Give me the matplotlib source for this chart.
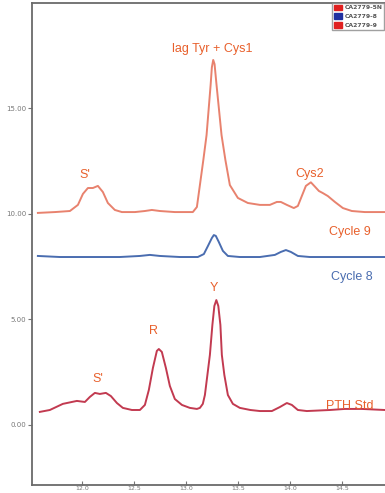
import numpy as np
import matplotlib
matplotlib.use('Agg')
import matplotlib.pyplot as plt
from matplotlib.patches import Patch
from matplotlib.ticker import FormatStrFormatter

# retention time (min) / absorbance
top_x = [11.577, 11.740, 11.885, 11.962, 12.010, 12.058, 12.106, 12.154, 12.202,
         12.250, 12.317, 12.385, 12.510, 12.606, 12.673, 12.750, 12.894, 13.067,
         13.106, 13.135, 13.168, 13.199, 13.238, 13.250, 13.263, 13.276, 13.295,
         13.343, 13.380, 13.423, 13.500, 13.596, 13.712, 13.808, 13.875, 13.913,
         13.971, 14.038, 14.077, 14.115, 14.154, 14.202, 14.240, 14.279, 14.317,
         14.365, 14.433, 14.510, 14.596, 14.721, 14.913]
top_y = [10.05, 10.09, 10.14, 10.43, 10.95, 11.23, 11.23, 11.33, 11.04,
         10.52, 10.19, 10.09, 10.09, 10.14, 10.19, 10.14, 10.09, 10.09,
         10.33, 11.37, 12.56, 13.74, 16.11, 16.95, 17.30, 17.10, 16.11,
         13.74, 12.56, 11.37, 10.76, 10.52, 10.43, 10.43, 10.57, 10.57,
         10.43, 10.28, 10.38, 10.85, 11.33, 11.50, 11.30, 11.09, 10.99,
         10.85, 10.57, 10.28, 10.14, 10.09, 10.09]

mid_x = [11.577, 11.788, 12.077, 12.365, 12.558, 12.654, 12.750, 12.942, 13.115,
         13.173, 13.212, 13.250, 13.269, 13.288, 13.317, 13.356, 13.404, 13.519,
         13.712, 13.856, 13.913, 13.962, 14.010, 14.077, 14.192, 14.481, 14.913]
mid_y = [8.01, 7.96, 7.96, 7.96, 8.01, 8.06, 8.01, 7.96, 7.96,
         8.10, 8.48, 8.86, 9.00, 8.96, 8.67, 8.25, 8.01, 7.96,
         7.96, 8.06, 8.20, 8.29, 8.20, 8.01, 7.96, 7.96, 7.96]

std_x = [11.596, 11.692, 11.817, 11.952, 12.029, 12.077, 12.125, 12.173, 12.231,
         12.279, 12.337, 12.394, 12.481, 12.558, 12.606, 12.644, 12.683, 12.721,
         12.740, 12.769, 12.808, 12.846, 12.894, 12.962, 13.038, 13.106, 13.135,
         13.163, 13.183, 13.207, 13.231, 13.255, 13.274, 13.293, 13.312, 13.332,
         13.346, 13.370, 13.404, 13.452, 13.519, 13.620, 13.712, 13.827, 13.904,
         13.971, 14.019, 14.077, 14.163, 14.385, 14.529, 14.692, 14.913]
std_y = [0.62, 0.71, 1.00, 1.14, 1.09, 1.33, 1.52, 1.47, 1.52,
         1.37, 1.04, 0.81, 0.71, 0.71, 0.95, 1.66, 2.70, 3.51,
         3.60, 3.46, 2.70, 1.85, 1.23, 0.95, 0.81, 0.76, 0.81,
         1.00, 1.42, 2.37, 3.32, 4.74, 5.64, 5.92, 5.64, 4.74,
         3.32, 2.37, 1.42, 1.00, 0.81, 0.71, 0.66, 0.66, 0.85,
         1.04, 0.95, 0.71, 0.66, 0.71, 0.76, 0.76, 0.71]

x_ticks = [12.0, 12.5, 13.0, 13.5, 14.0, 14.5]
y_ticks = [0, 5, 10, 15]
legend_names = ['CA2779-5N', 'CA2779-8', 'CA2779-9']

c_top = '#e8826e'
c_mid = '#4a6db0'
c_std = '#c23a50'
c_lab = '#e8602c'

fig = plt.figure(figsize=(3.85, 4.93), dpi=100)
ax = fig.add_axes([0.083, 0.016, 0.94, 0.978])

ax.plot(top_x, top_y, color=c_top, lw=1.4)
ax.plot(mid_x, mid_y, color=c_mid, lw=1.4)
ax.plot(std_x, std_y, color=c_std, lw=1.4)

ax.set_xlim(11.52, 15.0)
ax.set_ylim(-2.85, 20.0)
ax.set_xticks(x_ticks)
ax.set_yticks(y_ticks)
ax.yaxis.set_major_formatter(FormatStrFormatter('%.2f'))
ax.xaxis.set_major_formatter(FormatStrFormatter('%.1f'))
ax.tick_params(axis='x', direction='in', length=3, pad=0.5, labelsize=4.5,
               colors='#777777')
ax.tick_params(axis='y', direction='out', length=3, pad=1, labelsize=5,
               colors='#777777')
for s in ax.spines.values():
    s.set_color('#6a6a6a')
    s.set_linewidth(1.3)

fnt = dict(family='Liberation Sans', fontsize=9, ha='center', va='center')
ax.text(13.25, 17.8, 'lag Tyr + Cys1', color=c_lab, **fnt)
ax.text(12.03, 11.85, "S'", color=c_lab, **fnt)
ax.text(14.19, 11.9, 'Cys2', color=c_lab, **fnt)
ax.text(14.58, 9.15, 'Cycle 9', color=c_lab, **fnt)
ax.text(14.60, 7.0, 'Cycle 8', color=c_mid, **fnt)
ax.text(13.27, 6.5, 'Y', color=c_lab, **fnt)
ax.text(12.69, 4.45, 'R', color=c_lab, **fnt)
ax.text(12.15, 2.2, "S'", color=c_lab, **fnt)
ax.text(14.35, 0.9, 'PTH Std', color=c_lab, fontsize=9,
        family='Liberation Sans', ha='left', va='center')

handles = [Patch(color='#e02020'), Patch(color='#2030a0'), Patch(color='#e02020')]
fig.legend(handles, legend_names, loc='upper left',
           bbox_to_anchor=(0.855, 1.0), prop={'size': 4.4, 'weight': 'bold'},
           frameon=True, fancybox=False, edgecolor='#888888',
           handlelength=1.4, handleheight=1.0, labelspacing=0.5,
           borderpad=0.25, handletextpad=0.4, labelcolor='#555555')

fig.savefig('out.png', dpi=100)
